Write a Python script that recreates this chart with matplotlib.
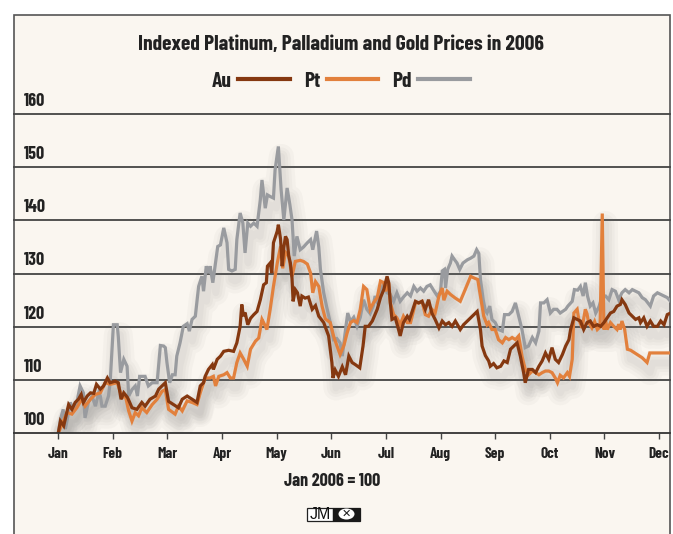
import numpy as np
import matplotlib
matplotlib.use("Agg")
import matplotlib.pyplot as plt
from matplotlib import transforms
from matplotlib.lines import Line2D
from matplotlib.patches import Rectangle, Ellipse

plt.rcParams["font.family"] = ["Barlow Condensed", "Archivo Narrow", "Fira Sans Extra Condensed", "DejaVu Sans"]
plt.rcParams["font.weight"] = "bold"

months = ["Jan", "Feb", "Mar", "Apr", "May", "Jun", "Jul", "Aug", "Sep", "Oct", "Nov", "Dec"]
y_ticks = [100, 110, 120, 130, 140, 150, 160]

# x in months since 1 Jan (0 = Jan, 1 = Feb, ...), values indexed Jan 2006 = 100
au_t = [0.00, 0.04, 0.10, 0.19, 0.25, 0.31, 0.37, 0.42, 0.46, 0.53, 0.59, 0.65, 0.70, 0.77, 0.83, 0.90,
        0.95, 1.04, 1.10, 1.15, 1.20, 1.27, 1.35, 1.44, 1.53, 1.59, 1.68, 1.78, 1.84, 1.90, 1.96, 2.02,
        2.11, 2.20, 2.27, 2.36, 2.45, 2.54, 2.60, 2.66, 2.69, 2.75, 2.82, 2.84, 2.91, 2.97, 3.03, 3.12,
        3.21, 3.27, 3.33, 3.36, 3.39, 3.42, 3.47, 3.52, 3.58, 3.64, 3.70, 3.76, 3.81, 3.83, 3.88, 3.91,
        3.94, 4.01, 4.03, 4.07, 4.10, 4.13, 4.16, 4.19, 4.22, 4.25, 4.28, 4.30, 4.34, 4.38, 4.43, 4.46,
        4.52, 4.58, 4.65, 4.71, 4.77, 4.86, 4.95, 5.01, 5.03, 5.07, 5.13, 5.20, 5.26, 5.32, 5.38, 5.44,
        5.52, 5.58, 5.62, 5.68, 5.75, 5.84, 5.90, 5.96, 6.02, 6.05, 6.08, 6.11, 6.17, 6.23, 6.26, 6.32,
        6.39, 6.43, 6.48, 6.54, 6.60, 6.66, 6.72, 6.78, 6.84, 6.90, 6.97, 7.03, 7.09, 7.15, 7.21, 7.27,
        7.36, 7.42, 7.55, 7.64, 7.67, 7.73, 7.76, 7.82, 7.88, 7.91, 7.97, 8.03, 8.10, 8.16, 8.22, 8.28,
        8.34, 8.40, 8.46, 8.52, 8.55, 8.61, 8.68, 8.74, 8.80, 8.86, 8.92, 8.98, 9.04, 9.10, 9.16, 9.23,
        9.29, 9.35, 9.38, 9.44, 9.50, 9.56, 9.62, 9.68, 9.74, 9.80, 9.87, 9.93, 9.99, 10.05, 10.11, 10.17,
        10.23, 10.29, 10.32, 10.38, 10.45, 10.51, 10.57, 10.63, 10.66, 10.72, 10.78, 10.84, 10.90, 10.97,
        11.03, 11.09, 11.15, 11.21]
au_v = [100.0, 102.3, 101.4, 105.4, 104.5, 105.8, 106.4, 107.3, 105.8, 107.0, 107.6, 107.5, 109.2, 108.3,
        108.9, 110.4, 109.5, 109.8, 109.5, 106.4, 107.6, 106.7, 104.8, 104.5, 105.8, 105.1, 106.4, 107.0,
        108.3, 108.9, 109.5, 106.0, 105.4, 104.8, 106.4, 107.0, 106.4, 105.8, 108.9, 109.5, 110.7, 112.0,
        112.9, 112.0, 113.9, 114.5, 115.4, 115.6, 115.4, 117.0, 120.1, 124.2, 122.0, 122.7, 120.4, 121.6,
        122.3, 122.9, 125.1, 127.9, 128.3, 131.4, 132.0, 130.1, 135.8, 138.0, 139.2, 136.5, 131.4, 134.9,
        137.0, 136.4, 133.3, 132.0, 129.1, 124.8, 127.0, 126.4, 123.9, 125.8, 125.4, 125.6, 123.3, 124.0,
        122.0, 120.8, 118.3, 113.3, 110.4, 111.9, 110.7, 112.5, 111.0, 114.5, 113.3, 112.9, 112.3, 116.4,
        120.1, 120.1, 121.1, 123.3, 125.5, 127.0, 129.5, 128.3, 124.5, 121.4, 121.7, 119.5, 118.3, 120.8,
        122.0, 121.4, 122.9, 124.8, 124.5, 124.8, 123.3, 125.1, 122.6, 121.4, 119.8, 121.1, 120.4, 120.8,
        120.1, 121.1, 119.5, 120.4, 121.7, 122.6, 122.9, 119.5, 116.4, 114.6, 113.6, 112.6, 113.1, 112.3,
        112.6, 113.6, 113.3, 115.8, 116.4, 117.0, 114.5, 111.4, 109.5, 112.0, 112.0, 111.4, 112.6, 113.6,
        115.1, 113.9, 116.1, 113.9, 113.3, 114.8, 116.4, 117.6, 119.5, 121.7, 121.4, 121.1, 119.5, 120.8,
        121.1, 120.1, 120.4, 120.1, 120.8, 121.7, 122.6, 122.9, 123.9, 124.2, 125.1, 124.2, 122.6, 122.0,
        121.4, 121.7, 120.8, 121.7, 120.1, 121.1, 120.1, 120.1, 121.1, 120.4, 122.3, 122.6]

pt_t = [0.00, 0.07, 0.16, 0.25, 0.34, 0.43, 0.49, 0.59, 0.68, 0.77, 0.86, 0.95, 1.08, 1.17, 1.23, 1.29,
        1.35, 1.41, 1.47, 1.53, 1.62, 1.72, 1.81, 1.90, 1.96, 2.02, 2.14, 2.20, 2.27, 2.36, 2.45, 2.54,
        2.60, 2.69, 2.78, 2.84, 2.88, 2.94, 3.03, 3.09, 3.15, 3.21, 3.27, 3.33, 3.39, 3.46, 3.52, 3.61,
        3.67, 3.73, 3.76, 3.82, 3.88, 3.94, 4.01, 4.07, 4.11, 4.16, 4.22, 4.28, 4.34, 4.43, 4.49, 4.56,
        4.62, 4.66, 4.71, 4.77, 4.83, 4.89, 4.98, 5.04, 5.10, 5.16, 5.23, 5.29, 5.35, 5.41, 5.47, 5.53,
        5.59, 5.65, 5.71, 5.77, 5.84, 5.90, 5.96, 5.99, 6.05, 6.08, 6.14, 6.20, 6.26, 6.32, 6.39, 6.45,
        6.54, 6.60, 6.66, 6.72, 6.78, 6.84, 6.90, 6.97, 7.03, 7.06, 7.12, 7.18, 7.27, 7.36, 7.45, 7.55,
        7.61, 7.68, 7.73, 7.79, 7.85, 7.88, 7.94, 8.00, 8.06, 8.13, 8.19, 8.25, 8.31, 8.37, 8.43, 8.49,
        8.55, 8.61, 8.68, 8.74, 8.80, 8.86, 8.92, 8.98, 9.04, 9.10, 9.14, 9.19, 9.25, 9.32, 9.36, 9.41,
        9.44, 9.50, 9.53, 9.59, 9.65, 9.68, 9.71, 9.77, 9.82, 9.87, 9.92, 9.96, 9.99, 10.02, 10.05, 10.11,
        10.17, 10.23, 10.26, 10.29, 10.32, 10.37, 10.42, 10.48, 10.60, 10.69, 10.78, 10.83, 11.03, 11.21]
pt_v = [100.0, 101.7, 103.9, 103.6, 104.8, 106.4, 105.1, 106.4, 107.3, 107.6, 109.5, 109.2, 109.5, 106.7,
        107.0, 104.2, 102.3, 103.9, 103.3, 104.8, 103.9, 105.4, 106.4, 107.9, 108.2, 104.5, 103.6, 105.1,
        104.2, 106.1, 105.8, 105.4, 107.6, 110.4, 110.4, 110.7, 108.9, 110.7, 111.0, 111.4, 110.4, 110.4,
        113.3, 115.1, 114.0, 112.6, 115.8, 117.3, 117.9, 121.4, 120.8, 119.5, 123.3, 127.6, 132.0, 135.1,
        131.0, 134.0, 133.3, 129.5, 132.3, 132.5, 132.3, 131.8, 130.1, 126.4, 128.5, 127.6, 123.9, 121.5,
        120.8, 118.3, 116.5, 114.8, 116.5, 118.9, 120.8, 121.2, 120.8, 123.3, 127.6, 127.0, 123.3, 124.5,
        125.5, 128.6, 128.3, 126.7, 128.3, 124.5, 122.3, 121.7, 120.4, 122.0, 120.8, 120.8, 124.5, 124.5,
        124.8, 122.3, 122.0, 123.3, 122.6, 125.8, 127.3, 125.0, 126.7, 126.1, 125.4, 124.8, 127.0, 129.5,
        129.2, 128.9, 125.8, 122.0, 120.4, 120.8, 119.5, 119.5, 117.6, 117.0, 118.0, 117.6, 118.0, 117.6,
        118.3, 114.5, 112.0, 111.0, 111.7, 111.4, 111.0, 111.4, 111.7, 111.7, 111.4, 110.4, 109.5, 110.9,
        110.4, 111.4, 110.7, 113.9, 122.6, 123.3, 121.4, 119.8, 123.3, 122.5, 120.8, 119.8, 121.0, 119.5,
        120.0, 141.3, 119.5, 121.3, 119.5, 120.8, 120.1, 119.5, 120.5, 119.5, 121.1, 119.5, 115.8, 115.6,
        114.8, 114.2, 113.3, 115.1, 115.1, 115.1]

pd_t = [0.00, 0.04, 0.09, 0.13, 0.19, 0.22, 0.28, 0.34, 0.40, 0.46, 0.49, 0.55, 0.62, 0.68, 0.74, 0.77,
        0.80, 0.86, 0.92, 0.95, 1.01, 1.08, 1.10, 1.14, 1.20, 1.26, 1.29, 1.35, 1.41, 1.45, 1.49, 1.59,
        1.65, 1.72, 1.81, 1.87, 1.93, 1.96, 1.99, 2.04, 2.09, 2.14, 2.17, 2.23, 2.29, 2.36, 2.40, 2.45,
        2.51, 2.57, 2.63, 2.66, 2.71, 2.75, 2.78, 2.83, 2.88, 2.92, 2.97, 3.03, 3.09, 3.12, 3.18, 3.24,
        3.27, 3.33, 3.38, 3.42, 3.47, 3.52, 3.58, 3.64, 3.70, 3.73, 3.79, 3.83, 3.88, 3.94, 3.97, 4.03,
        4.08, 4.13, 4.19, 4.24, 4.28, 4.32, 4.37, 4.43, 4.49, 4.56, 4.62, 4.66, 4.73, 4.77, 4.80, 4.86,
        4.92, 4.98, 5.04, 5.10, 5.16, 5.20, 5.26, 5.30, 5.35, 5.41, 5.47, 5.53, 5.59, 5.65, 5.71, 5.77,
        5.80, 5.85, 5.90, 5.96, 6.02, 6.08, 6.14, 6.20, 6.26, 6.32, 6.39, 6.45, 6.51, 6.57, 6.63, 6.69,
        6.75, 6.81, 6.87, 6.94, 7.00, 7.03, 7.07, 7.09, 7.13, 7.18, 7.21, 7.25, 7.30, 7.35, 7.41, 7.49,
        7.55, 7.61, 7.66, 7.70, 7.73, 7.78, 7.82, 7.85, 7.90, 7.94, 8.00, 8.06, 8.13, 8.17, 8.25, 8.31,
        8.37, 8.43, 8.49, 8.55, 8.61, 8.68, 8.74, 8.80, 8.83, 8.89, 8.95, 9.01, 9.07, 9.13, 9.19, 9.29,
        9.33, 9.41, 9.45, 9.51, 9.56, 9.61, 9.65, 9.69, 9.74, 9.79, 9.84, 9.90, 9.96, 10.02, 10.08, 10.14,
        10.20, 10.26, 10.32, 10.38, 10.45, 10.51, 10.57, 10.63, 10.69, 10.75, 10.84, 10.90, 10.97, 11.03,
        11.09, 11.15, 11.21]
pd_v = [100.0, 102.6, 104.5, 100.8, 103.9, 105.8, 104.5, 105.8, 108.9, 107.6, 102.9, 105.8, 107.0, 105.1,
        107.6, 107.0, 105.1, 105.1, 107.0, 109.5, 120.4, 120.4, 118.1, 111.4, 113.9, 112.6, 107.0, 108.2,
        108.9, 107.0, 110.7, 110.7, 108.9, 109.5, 109.5, 116.5, 116.4, 116.1, 113.3, 109.5, 111.0, 111.0,
        114.5, 117.0, 120.1, 120.6, 119.2, 121.4, 122.0, 127.6, 129.5, 126.7, 131.4, 130.1, 131.4, 128.3,
        132.0, 135.1, 135.4, 138.6, 135.8, 130.8, 130.5, 130.8, 136.4, 141.4, 139.5, 133.9, 139.5, 138.9,
        139.5, 138.9, 143.9, 147.6, 142.3, 144.8, 144.5, 144.2, 149.5, 153.9, 145.8, 140.1, 146.1, 143.0,
        140.1, 133.3, 137.0, 134.5, 135.0, 135.8, 136.4, 134.5, 138.0, 135.0, 130.8, 126.4, 123.5, 120.8,
        117.6, 117.8, 117.0, 114.5, 119.5, 122.6, 121.0, 121.8, 120.1, 121.8, 125.1, 123.3, 122.5, 124.0,
        125.8, 124.3, 126.4, 128.3, 126.4, 126.1, 124.8, 126.4, 124.8, 125.6, 126.4, 125.8, 127.6, 126.7,
        127.3, 126.7, 127.6, 127.9, 126.9, 125.8, 126.7, 130.5, 130.8, 127.3, 130.8, 132.0, 133.3, 132.7,
        132.0, 130.8, 132.0, 132.6, 132.9, 133.3, 134.5, 133.8, 128.9, 125.1, 123.0, 122.6, 123.9, 121.4,
        120.8, 119.5, 119.2, 122.3, 122.3, 122.9, 124.5, 122.0, 119.5, 116.1, 116.4, 118.0, 117.0, 119.2,
        124.5, 124.5, 125.1, 122.6, 123.3, 123.3, 122.6, 123.3, 123.9, 124.8, 127.0, 126.9, 127.6, 125.8,
        128.3, 125.8, 123.9, 124.5, 122.6, 123.8, 125.8, 125.8, 125.1, 127.0, 126.7, 125.1, 126.4, 127.0,
        126.4, 127.0, 126.7, 126.4, 125.5, 125.1, 123.9, 125.8, 126.4, 126.1, 125.8, 125.5, 124.8]

series = [("Pd", pd_t, pd_v, "#999b9f"),
          ("Pt", pt_t, pt_v, "#e2803c"),
          ("Au", au_t, au_v, "#853810")]

bg = "#faf6f0"
ink = "#222222"
fig = plt.figure(figsize=(6.73, 5.34), dpi=100)
fig.patch.set_facecolor("white")

# cream panel with border
fig.patches.append(Rectangle((13.5 / 673, -0.02), 656.5 / 673, 1 - 15 / 534 + 0.02,
                             transform=fig.transFigure, facecolor=bg, edgecolor="#555555",
                             linewidth=1.2, zorder=0))

ax = fig.add_axes([14 / 673, 100.7 / 534, 656 / 673, 319.3 / 534])
ax.set_zorder(1)
ax.set_facecolor("none")
ax.set_xlim(-0.81, 11.20)
ax.set_ylim(100, 160)

for v in y_ticks[1:]:
    ax.axhline(v, color="#444444", lw=1.3, zorder=1, clip_on=False)

# soft drop shadows
shadow_tr = transforms.offset_copy(ax.transData, fig=fig, x=3, y=-10, units="dots")
for name, t, v, c in series:
    for lw in (18, 13, 9, 5):
        ax.plot(t, v, color="#707070", lw=lw, alpha=0.045, transform=shadow_tr,
                solid_joinstyle="round", solid_capstyle="round", zorder=2)

for name, t, v, c in series:
    ax.plot(t, v, color=c, lw=2.3, zorder=3, solid_joinstyle="miter")

for s in ["top", "left", "right"]:
    ax.spines[s].set_visible(False)
ax.spines["bottom"].set_color("#333333")
ax.spines["bottom"].set_linewidth(1.3)
ax.spines["bottom"].set_zorder(4)

ax.set_xticks(range(len(months)))
ax.set_xticklabels(months, fontsize=11, color=ink)
ax.tick_params(axis="x", direction="out", length=4, width=1, color="#444444", pad=6)
ax.set_yticks([])

ylab_tr = transforms.blended_transform_factory(ax.transAxes, ax.transData)
for v in y_ticks:
    ax.annotate(str(v), xy=(0, v), xycoords=ylab_tr, xytext=(7, 3), textcoords="offset points",
                ha="left", va="bottom", fontsize=13, color=ink)

fig.text(341 / 673, 1 - 44 / 534, "Indexed Platinum, Palladium and Gold Prices in 2006",
         ha="center", va="center", fontsize=15.5, color=ink)

handles = [Line2D([], [], color=c, lw=3.0) for name, t, v, c in series[::-1]]
labels = [name for name, t, v, c in series[::-1]]
fig.legend(handles, labels, loc="center", bbox_to_anchor=(341 / 673, 1 - 81 / 534), ncol=3,
           frameon=False, markerfirst=False, handlelength=2.4, handletextpad=0.3,
           columnspacing=0.65, prop={"size": 15.5, "weight": "bold"}, labelcolor=ink)

fig.text(332 / 673, 1 - 482 / 534, "Jan 2006 = 100", ha="center", va="center",
         fontsize=13, color=ink)

# JM logo
fig.patches.append(Rectangle((307 / 673, 1 - 521 / 534), 26 / 673, 13.5 / 534,
                             transform=fig.transFigure, facecolor="white", edgecolor="#222222",
                             linewidth=0.9, zorder=5))
fig.patches.append(Rectangle((333 / 673, 1 - 521 / 534), 27 / 673, 13.5 / 534,
                             transform=fig.transFigure, facecolor="#1a1a1a", edgecolor="#1a1a1a",
                             linewidth=0.9, zorder=5))
fig.patches.append(Ellipse((346.5 / 673, 1 - 514 / 534), 16 / 673, 11 / 534,
                           transform=fig.transFigure, facecolor="white", zorder=6))
fig.text(320 / 673, 1 - 514.5 / 534, "JM", ha="center", va="center", fontsize=11.5,
         family=["Liberation Sans", "DejaVu Sans"], weight="normal", color="#111111", zorder=7)
fig.text(346.5 / 673, 1 - 514 / 534, "\u2715", ha="center", va="center", fontsize=8,
         family="DejaVu Sans", weight="bold", color="#1a1a1a", zorder=7)

fig.savefig("out.png", dpi=100, facecolor="white")
